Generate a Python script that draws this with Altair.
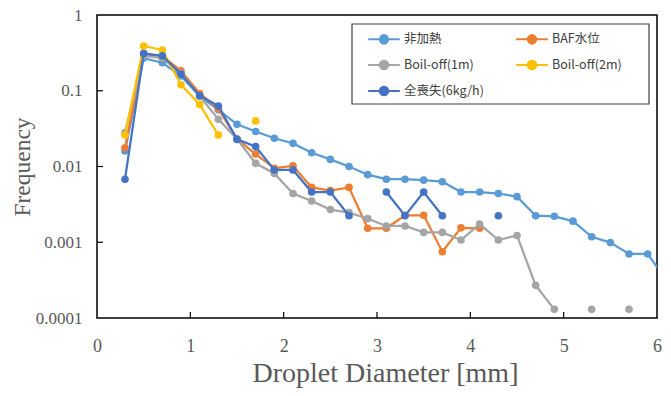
import altair as alt
import pandas as pd

diam = [round(0.3 + 0.2 * i, 1) for i in range(30)]  # 0.3 ... 6.1

s_hikanetsu = [0.016, 0.27, 0.234, 0.157, 0.085, 0.056, 0.036, 0.029, 0.0236, 0.0202,
               0.0152, 0.0124, 0.010, 0.0078, 0.0068, 0.0068, 0.0066, 0.0063, 0.0046, 0.0046,
               0.0044, 0.0040, 0.00224, 0.0022, 0.0019, 0.00118, 0.00099, 0.0007, 0.0007, 0.00032]
s_baf = [0.0177, 0.31, 0.285, 0.184, 0.092, 0.058, 0.023, 0.0146, 0.0095, 0.0102,
         0.0053, 0.0048, 0.0053, 0.00153, 0.00153, 0.00227, 0.00227, 0.00075, 0.00155, 0.00153,
         None, None, None, None, None, None, None, None, None, None]
s_boil1 = [0.028, 0.29, 0.27, 0.17, 0.085, 0.042, 0.023, 0.011, 0.0081, 0.0044,
           0.0035, 0.0027, 0.00246, 0.00205, 0.00164, 0.00164, 0.00135, 0.00135, 0.00107, 0.00174,
           0.00107, 0.00123, 0.00027, 0.00013, None, 0.00013, None, 0.00013, None, None]
s_boil2 = [0.026, 0.39, 0.345, 0.12, 0.066, 0.026, None, 0.040, None, None,
           None, None, None, None, None, None, None, None, None, None,
           None, None, None, None, None, None, None, None, None, None]
s_zensoshitsu = [0.0068, 0.31, 0.29, 0.166, 0.086, 0.063, 0.0228, 0.0183, 0.009, 0.009,
                 0.0046, 0.0046, 0.00224, None, 0.0046, 0.00224, 0.0046, 0.00224, None, None,
                 0.00224, None, None, None, None, None, None, None, None, None]

names = ["非加熱", "BAF水位", "Boil-off(1m)", "Boil-off(2m)", "全喪失(6kg/h)"]
colors = ["#5B9BD5", "#ED7D31", "#A5A5A5", "#FFC000", "#4472C4"]
series = [s_hikanetsu, s_baf, s_boil1, s_boil2, s_zensoshitsu]

x_ticks = [1, 2, 3, 4, 5]
y_ticks = [0.001, 0.01, 0.1]
x_labels = [0, 1, 2, 3, 4, 5, 6]
y_labels = [0.0001, 0.001, 0.01, 0.1, 1]

rows = []
for name, vals in zip(names, series):
    seg = 0
    prev_none = True
    for d, v in zip(diam, vals):
        if v is None:
            prev_none = True
            continue
        if prev_none:
            seg += 1
        prev_none = False
        rows.append({"d": d, "f": v, "series": name, "seg": f"{name}-{seg}"})
df = pd.DataFrame(rows)

xs = alt.Scale(domain=[0, 6])
ys = alt.Scale(type="log", domain=[0.0001, 1])
cs = alt.Scale(domain=names, range=colors)

sym_path = "M-1,0L1,0M-0.27,0A0.27,0.27,0,1,0,0.27,0A0.27,0.27,0,1,0,-0.27,0Z"
legend = alt.Legend(
    orient="none", legendX=270, legendY=7, columns=2, direction="horizontal", title=None,
    symbolType=sym_path, symbolSize=1000, symbolStrokeWidth=2,
    labelFont="Noto Sans CJK JP", labelFontSize=12.5, labelColor="#404040",
    columnPadding=28, rowPadding=-5, gridAlign="all", labelOffset=3,
    padding=0,
)

x_axis = alt.Axis(values=x_labels, title="Droplet Diameter [mm]", labelFlush=False,
                  labelOverlap=False, labelPadding=19, titlePadding=4,
                  labelFontSize=18, titleFontSize=28, titleX=288, titleAlign="center")
y_axis = alt.Axis(values=y_labels, format="~g", title="Frequency",
                  labelOverlap=False, labelPadding=15, titlePadding=1,
                  labelFontSize=17, titleFontSize=23.5)

xe = alt.X("d:Q", scale=xs, axis=x_axis)
ye = alt.Y("f:Q", scale=ys, axis=y_axis)

layers = []
for i, name in enumerate(names):
    sub = df[df["series"] == name]
    base = alt.Chart(sub)
    layers.append(base.mark_line(strokeWidth=2.25, clip=True).encode(
        x=xe, y=ye, detail="seg:N",
        stroke=alt.Stroke("series:N", scale=cs, legend=legend)))
    layers.append(base.mark_point(filled=True, size=58, opacity=1, strokeWidth=0, clip=True).encode(
        x=xe, y=ye,
        fill=alt.Fill("series:N", scale=cs, legend=legend),
        stroke=alt.Stroke("series:N", scale=cs, legend=legend)))

xt = alt.Chart(pd.DataFrame({"t": x_ticks})).mark_rule(color="black", strokeWidth=1.2).encode(
    x=alt.X("t:Q", scale=xs, axis=x_axis), y=alt.value(303), y2=alt.value(297))
yt = alt.Chart(pd.DataFrame({"t": y_ticks})).mark_rule(color="black", strokeWidth=1.2).encode(
    y=alt.Y("t:Q", scale=ys, axis=y_axis), x=alt.value(0), x2=alt.value(6))
box = alt.Chart(pd.DataFrame({"a": [0]})).mark_rect(
    fill="white", stroke="#404040", strokeWidth=1.2).encode(
    x=alt.value(255), x2=alt.value(552), y=alt.value(9), y2=alt.value(89))

chart = alt.layer(box, *layers, xt, yt).properties(
    width=560, height=303,
    autosize=alt.AutoSizeParams(type="none"),
    padding={"left": 97, "top": 15, "right": 14, "bottom": 78},
    background="white",
).configure_view(stroke="black", strokeWidth=1.5).configure_axis(
    ticks=False, domain=False, grid=False,
    labelFont="Liberation Serif", labelColor="#595959",
    titleFont="Liberation Serif", titleColor="#595959", titleFontWeight="normal",
)

chart.save("out.html", embed_options={"renderer": "svg", "actions": False})
